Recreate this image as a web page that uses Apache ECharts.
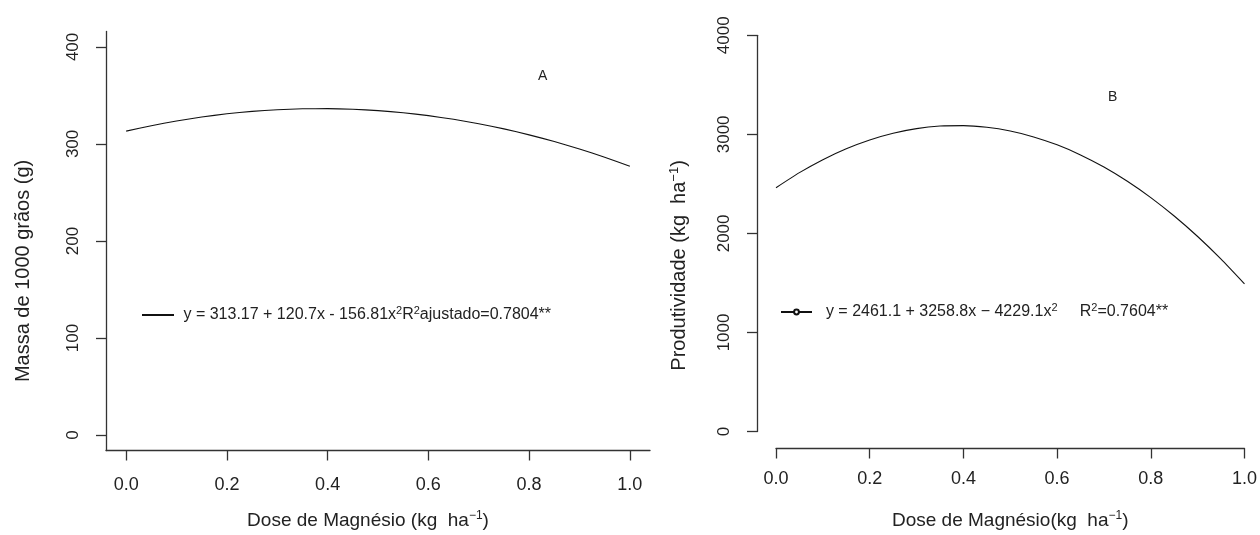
<!DOCTYPE html>
<html>
<head>
<meta charset="utf-8">
<script src="https://cdn.jsdelivr.net/npm/echarts@6/dist/echarts.min.js"></script>
<style>html,body{margin:0;padding:0;background:#fff}#c{width:1260px;height:535px}</style>
</head>
<body>
<div id="c"></div>
<script>
// Dose de Magnésio (kg ha-1)
const doses = [0, 0.05, 0.1, 0.15, 0.2, 0.25, 0.3, 0.35, 0.4, 0.45, 0.5, 0.55, 0.6, 0.65, 0.7, 0.75, 0.8, 0.85, 0.9, 0.95, 1.0];
// Panel A: Massa de 1000 grãos (g)
const massaA = [313.17, 318.81, 323.67, 327.75, 331.04, 333.54, 335.27, 336.21, 336.36, 335.73, 334.32, 332.12, 329.14, 325.37, 320.82, 315.49, 309.37, 302.47, 294.78, 286.31, 277.06];
// Panel B: Produtividade (kg ha-1)
const prodB = [2461.1, 2613.5, 2744.7, 2854.8, 2943.7, 3011.5, 3058.1, 3083.6, 3088.0, 3071.2, 3033.2, 2974.1, 2893.9, 2792.5, 2670.0, 2526.3, 2361.5, 2175.6, 1968.5, 1740.2, 1490.8];
const xTicks = [0, 0.2, 0.4, 0.6, 0.8, 1.0];
const yTicksA = [0, 100, 200, 300, 400];
const yTicksB = [0, 1000, 2000, 3000, 4000];

const FONT = '"Liberation Sans", Arial, sans-serif';
const TXT = '#222';
const AX = '#333';
const chart = echarts.init(document.getElementById('c'), null, {renderer: 'canvas'});

function supRich(size) {
  return {
    t: {fontFamily: FONT, fontSize: size, color: TXT, lineHeight: 22},
    s: {fontFamily: FONT, fontSize: Math.round(size * 0.65), color: TXT, lineHeight: 11, verticalAlign: 'top'}
  };
}
const legRich = {
  t: {fontFamily: FONT, fontSize: 16, color: TXT, lineHeight: 20},
  s: {fontFamily: FONT, fontSize: 11, color: TXT, lineHeight: 10, verticalAlign: 'top'}
};

const axisLineStyle = {show: true, onZero: false, lineStyle: {color: AX, width: 1.3}};
const tickStyle = {show: true, length: 10, lineStyle: {color: AX, width: 1.3}};
const xLabel = {fontFamily: FONT, fontSize: 18, color: TXT};
const yLabel = {fontFamily: FONT, fontSize: 17, color: TXT};

const option = {
  animation: false,
  backgroundColor: '#fff',
  grid: [
    {left: 106, right: 610, top: 31.4, bottom: 81.7},
    {left: 776, right: 14, top: 35.3, bottom: 101.5}
  ],
  xAxis: [
    {
      gridIndex: 0, type: 'value', min: -0.04, max: 1.04,
      splitLine: {show: false},
      axisLine: axisLineStyle,
      axisTick: Object.assign({}, tickStyle, {customValues: xTicks}),
      axisLabel: Object.assign({customValues: xTicks, formatter: v => v.toFixed(1), margin: 26}, xLabel),
      name: '{t|Dose de Magnésio (kg  ha}{s|−1}{t|)}',
      nameLocation: 'middle', nameGap: 59,
      nameTextStyle: {rich: supRich(19), padding: [0, 20, 0, 0]}
    },
    {
      gridIndex: 1, type: 'value', min: 0, max: 1, interval: 0.2, offset: 17,
      splitLine: {show: false},
      axisLine: axisLineStyle,
      axisTick: tickStyle,
      axisLabel: Object.assign({formatter: v => v.toFixed(1), margin: 22}, xLabel),
      name: '{t|Dose de Magnésio(kg  ha}{s|−1}{t|)}',
      nameLocation: 'middle', nameGap: 61,
      nameTextStyle: {rich: supRich(19)}
    }
  ],
  yAxis: [
    {
      gridIndex: 0, type: 'value', min: -16, max: 416,
      splitLine: {show: false},
      axisLine: axisLineStyle,
      axisTick: Object.assign({}, tickStyle, {customValues: yTicksA}),
      axisLabel: Object.assign({customValues: yTicksA, rotate: 90, margin: 24, formatter: v => String(v)}, yLabel),
      name: 'Massa de 1000 grãos (g)',
      nameLocation: 'middle', nameGap: 73, nameRotate: 90,
      nameTextStyle: {fontFamily: FONT, fontSize: 20, color: TXT, padding: [0, 60, 0, 0]}
    },
    {
      gridIndex: 1, type: 'value', min: 0, max: 4000, interval: 1000, offset: 19,
      splitLine: {show: false},
      axisLine: axisLineStyle,
      axisTick: tickStyle,
      axisLabel: Object.assign({rotate: 90, margin: 24, formatter: v => String(v)}, yLabel),
      name: '{t|Produtividade (kg  ha}{s|−1}{t|)}',
      nameLocation: 'middle', nameGap: 67, nameRotate: 90,
      nameTextStyle: {rich: supRich(20), padding: [0, 64, 0, 0]}
    }
  ],
  legend: [
    {
      data: [{name: 'A', itemStyle: {opacity: 0}}], left: 136, top: 300, itemWidth: 32, itemHeight: 8, itemGap: 0,
      formatter: () => '{t| y = 313.17 + 120.7x - 156.81x}{s|2}{t|R}{s|2}{t|ajustado=0.7804**}',
      textStyle: {rich: legRich}
    },
    {
      data: ['B'], left: 775, top: 297, itemWidth: 31, itemHeight: 6, itemGap: 0,
      formatter: () => '{t|  y = 2461.1 + 3258.8x − 4229.1x}{s|2}{t|     R}{s|2}{t|=0.7604**}',
      textStyle: {rich: legRich}
    }
  ],
  graphic: [
    {type: 'text', left: 538, top: 69, style: {text: 'A', font: '14px ' + FONT, fill: TXT}},
    {type: 'text', left: 1108, top: 90, style: {text: 'B', font: '14px ' + FONT, fill: TXT}}
  ],
  series: [
    {
      name: 'A', type: 'line', xAxisIndex: 0, yAxisIndex: 0,
      data: doses.map((d, i) => [d, massaA[i]]),
      symbol: 'none', smooth: 0.2,
      lineStyle: {color: '#111', width: 1.1},
      itemStyle: {color: '#111'}
    },
    {
      name: 'B', type: 'line', xAxisIndex: 1, yAxisIndex: 1,
      data: doses.map((d, i) => [d, prodB[i]]),
      symbol: 'emptyCircle', symbolSize: 5, showSymbol: false, smooth: 0.2,
      lineStyle: {color: '#111', width: 1.1},
      itemStyle: {color: '#111', borderColor: '#111', borderWidth: 1}
    }
  ]
};
chart.setOption(option);
</script>
</body>
</html>
